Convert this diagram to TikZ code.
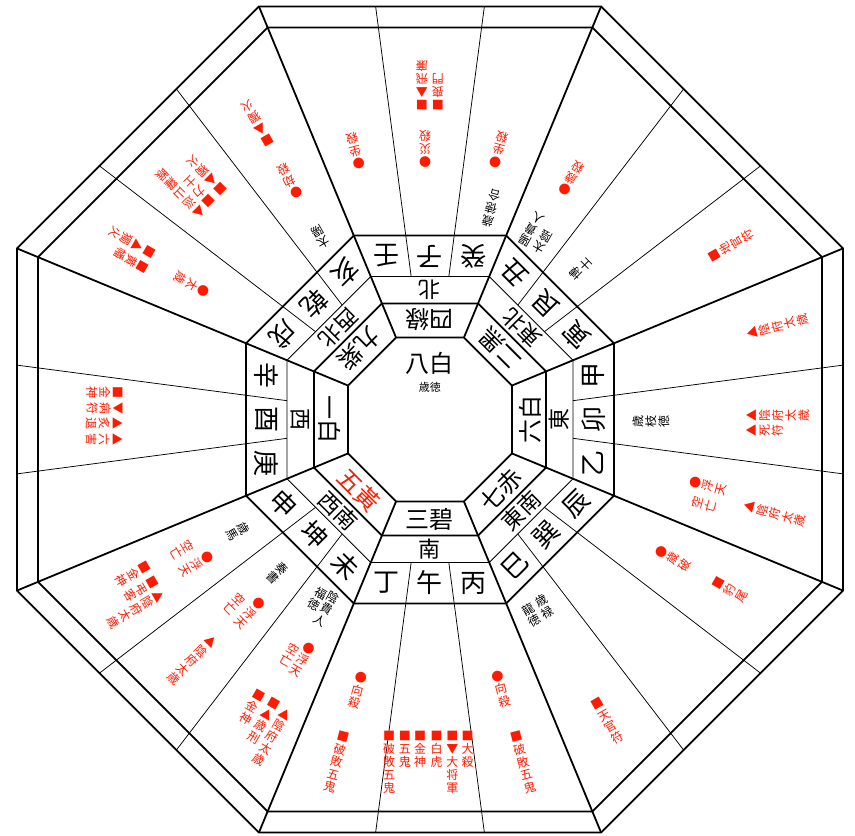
\documentclass[tikz,border=0pt]{standalone}
\usepackage{fontspec}
\setmainfont{Noto Sans CJK JP}
\definecolor{Ink}{HTML}{000000}
\definecolor{Omen}{HTML}{FF1A00}
% one glyph per row, fixed pitch
\newcommand\tate[1]{{\let\\\cr\vbox{\baselineskip=13pt\lineskiplimit=-\maxdimen
  \halign{\hfil##\hfil\cr#1\cr}}}}

\begin{document}
\begin{tikzpicture}[x=1pt,y=1pt,
    heavy/.style={line width=1.8pt},
    fine/.style={line width=0.75pt},
    mountain/.style={font=\fontsize{26}{26}\selectfont,inner sep=0pt},
    quarter/.style={font=\fontsize{22}{22}\selectfont,inner sep=0pt},
    starname/.style={font=\fontsize{24}{24}\selectfont,inner sep=0pt},
    deity/.style={font=\fontsize{12}{13}\selectfont,inner sep=0pt,anchor=north},
    evil/.style={deity,text=Omen},
    boon/.style={deity,text=Ink}]
  \useasboundingbox (-430,-416.5) rectangle (425,419.5);

  % octagon rings
  \foreach \ap in {82,116,184,392,413}
    \draw[heavy] (22.5:{\ap/cos(22.5)}) \foreach \k in {1,...,7}{ -- ({22.5+45*\k}:{\ap/cos(22.5)})} -- cycle;
  \draw[fine] (22.5:{143/cos(22.5)}) \foreach \k in {1,...,7}{ -- ({22.5+45*\k}:{143/cos(22.5)})} -- cycle;

  % spokes
  \foreach \k in {0,...,7}{
    \draw[heavy] ({22.5+45*\k}:{82/cos(22.5)}) -- ({22.5+45*\k}:{413/cos(22.5)});
    \draw[fine] ({45*\k-7.5}:{143/cos(7.5)}) -- ({45*\k-7.5}:{413/cos(7.5)});
    \draw[fine] ({45*\k+7.5}:{143/cos(7.5)}) -- ({45*\k+7.5}:{413/cos(7.5)});
  }

  % centre
  \node[starname] (centre) at (0,56.5) {八白};
  \node[font=\fontsize{11}{11}\selectfont,inner sep=0pt] (virtue) at (0,32.5) {歳徳};

  % stars and quarters
  \foreach \side/\dir/\star/\col [count=\n] in {90/北/四綠/Ink,45/東北/二黑/Ink,0/東/六白/Ink,-45/東南/七赤/Ink,
      -90/南/三碧/Ink,-135/西南/五黃/Omen,180/西/一白/Ink,135/西北/九紫/Ink}{
    \pgfmathsetmacro\rot{\side+90}
    \node[starname,rotate=\rot,text=\col] (star\n) at (\side:100) {\star};
    \node[quarter,rotate=\rot] (dir\n) at (\side:129.5) {\dir};
  }

  % twenty-four mountains
  \foreach \ch [count=\i from 0] in {壬,子,癸,丑,艮,寅,甲,卯,乙,辰,巽,巳,丙,午,丁,未,坤,申,庚,酉,辛,戌,乾,亥}{
    \pgfmathsetmacro\ang{105-15*\i}
    \pgfmathsetmacro\side{90-45*floor(\i/3)}
    \pgfmathsetmacro\rot{\side+90}
    \node[mountain,rotate=\rot] (mt\i) at (\ang:{163.5/cos(\ang-\side)}) {\ch};
  }

  % lucky deities
  \foreach \s/\pos/\rad/\txt [count=\n] in {
      120/121.0/201/{太\\陽}, 75/73.8/201/{歳\\徳\\合},
      60/62.1/197/{陽\\貴\\人}, 60/57.5/198/{太\\陰},
      45/44.9/201/{博\\士}, 0/-0.6/202/{歳\\枝\\徳},
      -60/-58.5/207/{歳\\禄}, -60/-62.7/208/{龍\\徳},
      -120/-118.5/197/{陰\\貴\\人}, -120/-122.2/200/{福\\徳},
      -135/-134.9/204/{奏\\書}, -150/-149.8/210/{歳\\馬}}{
    \pgfmathsetmacro\rot{\s+90}
    \node[boon,rotate=\rot] (boon\n) at (\pos:\rad) {\tate{\txt}};
  }

  % unlucky deities
  \foreach \s/\pos/\rad/\txt [count=\n] in {
      105/105.6/260/{●\\坐\\殺},
      90/91.1/252/{●\\災\\殺}, 90/91.5/310/{■\\▲\\飛\\廉}, 90/88.55/310/{■\\喪\\門},
      75/75.8/260/{●\\坐\\殺},
      60/59.6/261/{●\\歳\\殺},
      30/30.0/323/{■\\地\\官\\符},
      15/15.0/328/{▲\\陰\\府\\太\\歳},
      0/0.8/316/{▲\\陰\\府\\太\\歳}, 0/-2.0/316/{▲\\死\\符},
      -15/-13.3/267/{●\\浮\\天}, -15/-17.3/275/{空\\亡}, -15/-15.3/326/{▲\\陰\\府\\太\\歳},
      -30/-29.7/261/{●\\歳\\破}, -30/-29.6/327/{■\\豹\\尾},
      -60/-59.5/325/{■\\天\\官\\符},
      -75/-75.3/260/{●\\向\\殺}, -75/-74.8/324/{■\\破\\敗\\五\\鬼},
      -90/-97.5/314/{■\\破\\敗\\五\\鬼}, -90/-94.6/312.2/{■\\五\\鬼},
      -90/-91.8/311.4/{■\\金\\神}, -90/-88.8/311.3/{■\\白\\虎},
      -90/-85.9/312/{■\\▼\\大\\将\\軍}, -90/-83.1/313.5/{■\\大\\殺},
      -105/-105.0/262/{●\\向\\殺}, -105/-105.3/324/{■\\破\\敗\\五\\鬼},
      -120/-117.8/253/{●\\浮\\天}, -120/-120.9/262/{空\\亡},
      -120/-121.8/320/{■\\金\\神}, -120/-118.8/319/{■\\▲\\歳\\刑}, -120/-116.1/323/{▲\\陰\\府\\太\\歳},
      -135/-132.8/246/{●\\浮\\天}, -135/-136.7/257/{空\\亡}, -135/-134.6/307/{▲\\陰\\府\\太\\歳},
      -150/-148.1/256/{●\\浮\\天}, -150/-152.4/268/{空\\亡},
      -150/-152.6/317/{■\\金\\神}, -150/-149.5/317/{■\\弔\\客}, -150/-146.9/318/{▲\\陰\\府\\太\\歳},
      180/175.0/308.5/{■\\金\\神}, 180/177.9/307.5/{▼\\病\\符},
      180/180.8/307.3/{▲\\炙\\退}, 180/183.7/308/{▲\\六\\害},
      150/149.2/322/{■\\▲\\獨\\火}, 150/152.1/320/{■\\黄\\幡}, 150/150.5/255/{●\\太\\歳},
      135/132.2/306/{■\\▲\\獨\\火}, 135/135.3/306/{■\\力\\士}, 135/138.1/305/{▲\\巡\\山\\羅\\睺},
      120/120.2/318/{■\\▲\\獨\\火}, 120/120.5/258/{●\\劫\\殺}}{
    \pgfmathsetmacro\rot{\s+90}
    \node[evil,rotate=\rot] (evil\n) at (\pos:\rad) {\tate{\txt}};
  }
\end{tikzpicture}
\end{document}
